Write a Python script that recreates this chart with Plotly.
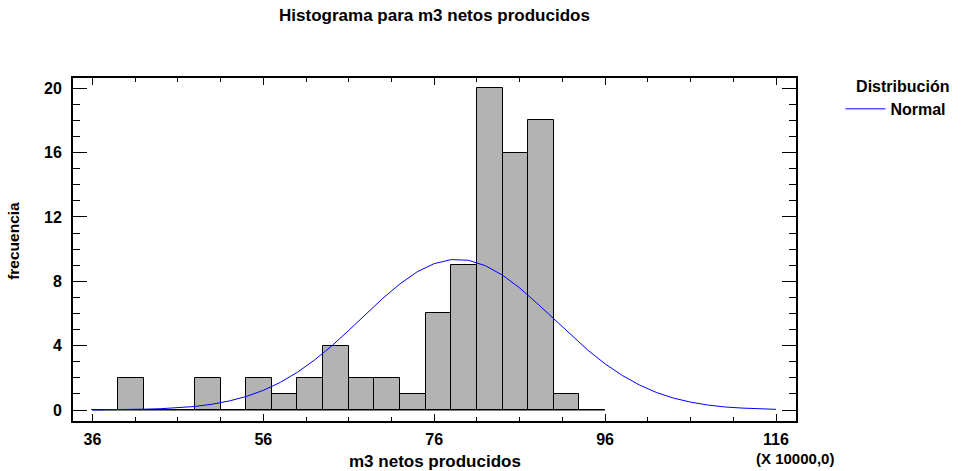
import plotly.graph_objects as go

# ---- data ----
bin_start = 36
bin_width = 3
counts = [0, 2, 0, 0, 2, 0, 2, 1, 2, 4, 2, 2, 1, 6, 9, 20, 16, 18, 1, 0]

curve_x = [36, 38, 40, 42, 44, 46, 48, 50, 52, 54, 56, 58, 60, 62, 64, 66, 68, 70,
           72, 74, 76, 78, 80, 82, 84, 86, 88, 90, 92, 94, 96, 98, 100, 102, 104,
           106, 108, 110, 112, 114, 116]
curve_y = [0.01, 0.01, 0.03, 0.05, 0.08, 0.14, 0.22, 0.36, 0.56, 0.84, 1.22, 1.72,
           2.35, 3.11, 3.98, 4.95, 5.96, 6.95, 7.84, 8.59, 9.10, 9.35, 9.31, 8.97,
           8.38, 7.59, 6.65, 5.65, 4.65, 3.71, 2.87, 2.15, 1.56, 1.09, 0.74, 0.49,
           0.31, 0.19, 0.12, 0.07, 0.04]

x_tick_vals = [36, 56, 76, 96, 116]
y_tick_vals = [0, 4, 8, 12, 16, 20]

title_text = "Histograma para m3 netos producidos"
x_title = "m3 netos producidos"
y_title = "frecuencia"
x_scale_note = "(X 10000,0)"
legend_title = "Distribución"
curve_name = "Normal"

bin_edges = [bin_start + i * bin_width for i in range(len(counts) + 1)]
bin_centers = [(bin_edges[i] + bin_edges[i + 1]) / 2 for i in range(len(counts))]

FONT = "Liberation Sans, Arial, sans-serif"

fig = go.Figure()
fig.add_trace(go.Bar(
    x=bin_centers, y=counts, width=[bin_width] * len(counts),
    marker=dict(color="#B3B3B3", line=dict(color="#000000", width=1)),
    showlegend=False, hoverinfo="x+y",
))
# baseline of histogram (from first to last bin edge)
fig.add_trace(go.Scatter(
    x=[bin_edges[0], bin_edges[-1]], y=[0, 0], mode="lines",
    line=dict(color="#000000", width=1), showlegend=False, hoverinfo="skip",
))
fig.add_trace(go.Scatter(
    x=curve_x, y=curve_y, mode="lines", name=curve_name,
    line=dict(color="#0000FF", width=1),
))

axis_common = dict(
    showline=True, linewidth=2, linecolor="#000000", mirror="allticks",
    ticks="inside", tickcolor="#000000", tickwidth=1,
    showgrid=False, zeroline=False,
    tickfont=dict(family=FONT, size=16, color="#000000", weight="bold"),
)

fig.update_xaxes(
    range=[33.73, 118.34], tickvals=x_tick_vals, ticklen=7,
    minor=dict(ticks="inside", dtick=5, tick0=36, ticklen=4, tickcolor="#000000", tickwidth=1),
    ticklabelstandoff=3,
    **axis_common,
)
fig.update_yaxes(
    range=[-0.684, 20.64], tickvals=y_tick_vals, ticklen=14,
    minor=dict(ticks="inside", dtick=1, tick0=0, ticklen=7, tickcolor="#000000", tickwidth=1),
    ticklabelstandoff=6,
    **axis_common,
)

fig.update_layout(
    width=964, height=471,
    margin=dict(l=73, r=157, t=78, b=50),
    paper_bgcolor="#FFFFFF", plot_bgcolor="#FFFFFF",
    bargap=0,
    font=dict(family=FONT, color="#000000"),
    title=dict(text=title_text, x=0.5, xref="paper", xanchor="center",
               y=1 - 15 / 471, yanchor="middle",
               font=dict(family=FONT, size=17, color="#000000", weight="bold")),
    legend=dict(
        title=dict(text=legend_title, side="top right",
                   font=dict(family=FONT, size=16, color="#000000", weight="bold")),
        font=dict(family=FONT, size=16, color="#000000", weight="bold"),
        x=1.215, xanchor="right", y=1.02, yanchor="top",
        bgcolor="rgba(0,0,0,0)", itemwidth=40,
    ),
    annotations=[
        dict(text=x_title, xref="paper", yref="paper", x=0.501, y=-0.1195,
             xanchor="center", yanchor="middle", showarrow=False,
             font=dict(family=FONT, size=17, color="#000000", weight="bold")),
        dict(text=y_title, xref="paper", yref="paper", x=-0.0817, y=0.525,
             xanchor="center", yanchor="middle", showarrow=False, textangle=-90,
             font=dict(family=FONT, size=15.5, color="#000000", weight="bold")),
        dict(text=x_scale_note, xref="paper", yref="paper", x=0.9986, y=-0.11,
             xanchor="center", yanchor="middle", showarrow=False,
             font=dict(family=FONT, size=15, color="#000000", weight="bold")),
    ],
)

fig.write_html("out.html")
